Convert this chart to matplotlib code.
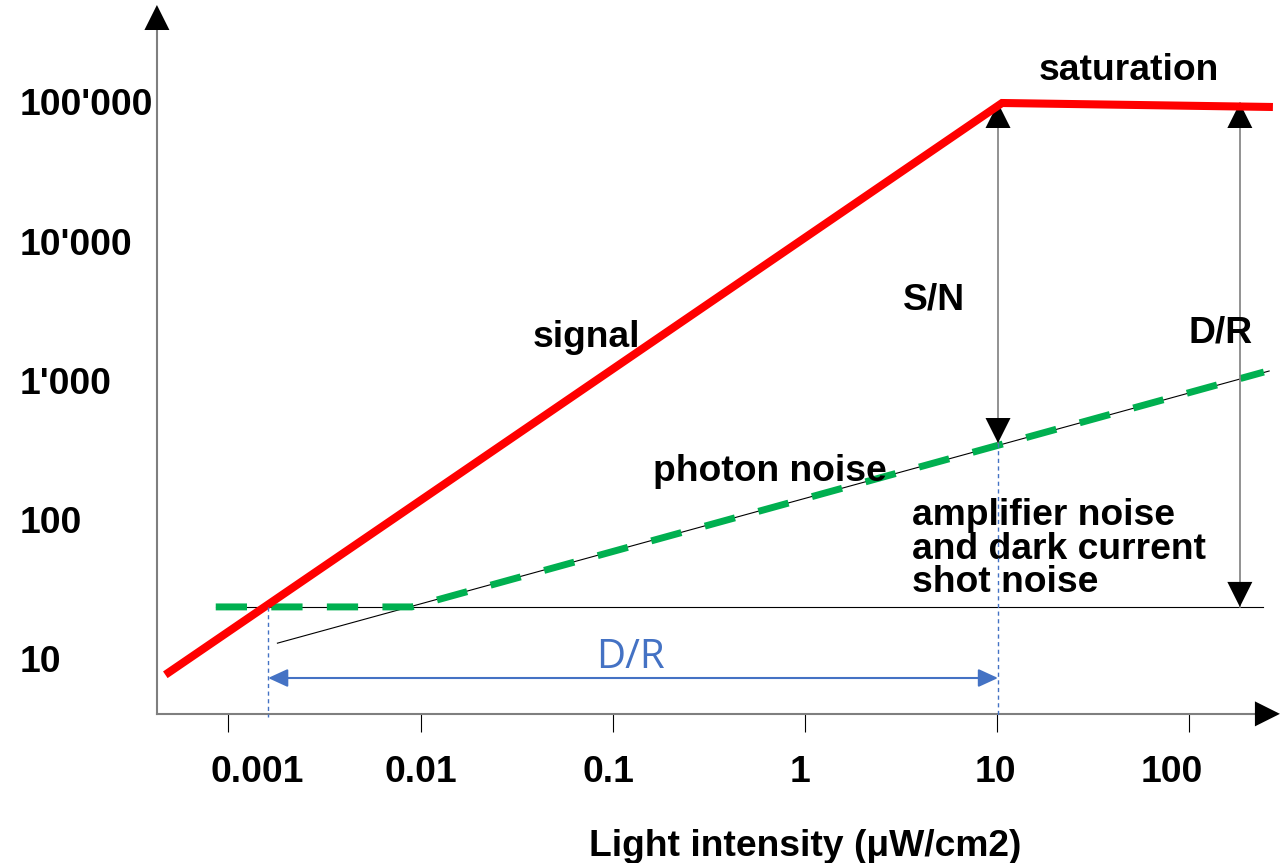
import matplotlib.pyplot as plt
import matplotlib.transforms as mtransforms
import numpy as np

plt.rcParams['font.family'] = ['Liberation Sans', 'DejaVu Sans']

# signal (red) rises with light until saturation at ~10 uW/cm2
signal_x = [0.00047, 10.6, 272]
signal_y = [7.7, 100000, 93600]

# total noise (green dashed): dark/amplifier floor, then photon noise
noise_x = [0.00086, 0.0090, 244]
noise_y = [23.7, 23.7, 1160]

# thin guide lines
photon_x = [0.0018, 260]
photon_y = [13.0, 1180]
floor_x = [0.00086, 241]
floor_y = [23.7, 23.7]

xtick_vals = [0.001, 0.01, 0.1, 1, 10, 100]
xtick_labels = ['0.001', '0.01', '0.1', '1', '10', '100']
ytick_vals = [10, 100, 1000, 10000, 100000]
ytick_labels = ['10', '100', "1'000", "10'000", "100'000"]

dr_left = 0.00161    # signal meets noise floor
dr_right = 10.1      # saturation onset
sn_top = 100000
sn_bottom = 358      # noise level at saturation onset
dr_x = 183           # position of the right-hand D/R arrow
floor_level = 23.7

# axes frame (log units)
x_axis_at = 4.03
y_axis_at = 0.000425
x_tip = 10 ** 2.471
y_tip = 10 ** 5.705

fig = plt.figure(figsize=(12.81, 8.63), dpi=100)
ax = fig.add_axes([0, 0, 1, 1])
ax.set_xscale('log')
ax.set_yscale('log')
ax.set_xlim(10 ** -4.188, 10 ** 2.4766)
ax.set_ylim(10 ** -0.4676, 10 ** 5.741)

# axis lines with ticks below the x axis
gray = '#7F7F7F'
for side in ['top', 'right']:
    ax.spines[side].set_visible(False)
ax.spines['bottom'].set_position(('data', x_axis_at))
ax.spines['left'].set_position(('data', y_axis_at))
ax.spines['bottom'].set_bounds(y_axis_at, x_tip / 1.05)
ax.spines['left'].set_bounds(x_axis_at, y_tip / 1.05)
for side in ['bottom', 'left']:
    ax.spines[side].set_color(gray)
    ax.spines[side].set_linewidth(1.5)
ax.set_xticks(xtick_vals)
ax.set_xticklabels([''] * len(xtick_vals))
ax.xaxis.set_minor_locator(plt.NullLocator())
ax.yaxis.set_minor_locator(plt.NullLocator())
ax.set_yticks([])
ax.tick_params(axis='x', direction='out', length=13, width=0.8, color='black')


def head(tip, tail, hl=1.8, hw=0.9, color='black'):
    ax.annotate('', xy=tip, xytext=tail,
                arrowprops=dict(arrowstyle=f'-|>,head_length={hl},head_width={hw}',
                                color=color, lw=0, shrinkA=0, shrinkB=0,
                                mutation_scale=10))


head((x_tip, x_axis_at), (1, x_axis_at))
head((y_axis_at, y_tip), (y_axis_at, 10))

# thin guide lines
ax.plot(floor_x, floor_y, color='black', lw=0.8, zorder=2)
ax.plot(photon_x, photon_y, color='black', lw=0.8, zorder=2)

# noise (green dashed) and signal (red)
ax.plot(noise_x, noise_y, color='#00B050', lw=5.0, dashes=(4.5, 3.5), zorder=3)
ax.plot(signal_x, signal_y, color='#FF0000', lw=5.8, solid_joinstyle='miter',
        solid_capstyle='butt', zorder=4)

# S/N and D/R double arrows
ax.plot([dr_right, dr_right], [sn_top, sn_bottom], color=gray, lw=1.2, zorder=3)
head((dr_right, sn_top), (dr_right, 1000))
head((dr_right, sn_bottom), (dr_right, 10000))
ax.plot([dr_x, dr_x], [sn_top, floor_level], color=gray, lw=1.2, zorder=3)
head((dr_x, sn_top), (dr_x, 1000))
head((dr_x, floor_level), (dr_x, 10000))

# blue dynamic range along the light axis
blue = '#4472C4'
ax.plot([dr_left, dr_left], [floor_level, 3.83], color=blue, lw=1.0,
        dashes=(3, 2.5), zorder=5)
ax.plot([dr_right, dr_right], [sn_bottom, 3.83], color=blue, lw=1.0,
        dashes=(3, 2.5), zorder=5)
ax.annotate('', xy=(dr_left, 7.3), xytext=(dr_right, 7.3),
            arrowprops=dict(arrowstyle='<|-|>,head_length=1.2,head_width=0.55',
                            color=blue, lw=1.5, shrinkA=0, shrinkB=0,
                            mutation_scale=10))

# text sits a few pixels lower than the centre of its box
tt = mtransforms.offset_copy(ax.transData, fig=fig, y=-3, units='dots')

# tick labels
fs = 26.8
label_dx = [29, 0, -4, -5, -2, -18]
for v, lab, dx in zip(xtick_vals, xtick_labels, label_dx):
    ax.annotate(lab, xy=(v, 1.59), xytext=(dx * 0.72, -2), textcoords='offset points',
                ha='center', va='center', fontsize=fs, fontweight='bold')
for v, lab in zip(ytick_vals, ytick_labels):
    ax.text(8.24e-5, v, lab, ha='left', va='center', fontsize=fs, fontweight='bold',
            transform=tt)

ax.text(1, 0.474, 'Light intensity (\u03bcW/cm2)', ha='center', va='center',
        fontsize=fs, fontweight='bold', transform=tt)

# annotations
bold = dict(fontsize=fs, fontweight='bold', ha='center', va='center', transform=tt)
ax.text(48.5, 178600, 'saturation', **bold)
ax.text(0.0726, 2143, 'signal', **bold)
ax.text(4.69, 4018, 'S/N', **bold)
ax.text(146, 2328, 'D/R', **bold)
ax.text(0.658, 236.6, 'photon noise', **bold)
ax.text(3.6, 65, 'amplifier noise\nand dark current\nshot noise', fontsize=fs,
        fontweight='bold', ha='left', va='center', linespacing=0.93, transform=tt)
ax.text(0.123, 10.7, 'D/R', fontsize=29, color=blue, ha='center', va='center',
        family=['Open Sans', 'DejaVu Sans'], transform=tt)

fig.savefig('out.png', dpi=100)
